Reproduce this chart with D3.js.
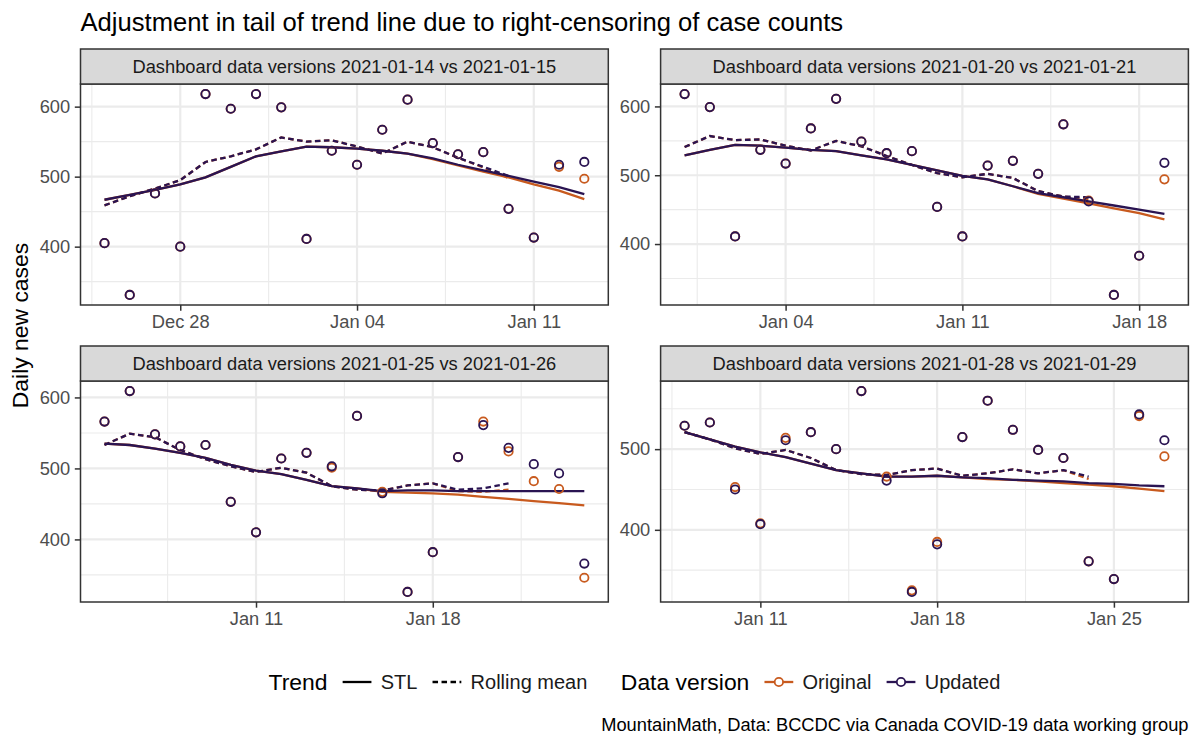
<!DOCTYPE html>
<html>
<head>
<meta charset="utf-8">
<script src="https://cdn.jsdelivr.net/npm/d3@7"></script>
<style>
  body { margin: 0; background: #fff; }
  svg text { font-family: "Liberation Sans", Arial, Helvetica, sans-serif; }
</style>
</head>
<body>
<div id="chart"></div>
<script>
// ---- data (one value per day) ----
var panelTitles = [
  "Dashboard data versions 2021-01-14 vs 2021-01-15",
  "Dashboard data versions 2021-01-20 vs 2021-01-21",
  "Dashboard data versions 2021-01-25 vs 2021-01-26",
  "Dashboard data versions 2021-01-28 vs 2021-01-29"
];
var panelStart = ["2020-12-25", "2020-12-31", "2021-01-05", "2021-01-08"];

// panel 1
var p1Updated  = [405,331,476,400,618,597,618,599,411,537,517,567,610,548,532,535,454,413,517,521];
var p1Original = [405,331,476,400,618,597,618,599,411,537,517,567,610,548,532,535,454,413,514,497];
var p1StlUpdated  = [467,474,481,489,499,514,529,536,543,542,540,537,533,526,517,509,501,493,485,475];
var p1StlOriginal = [467,474,481,489,499,514,529,536,543,542,540,537,533,525,516,507,499,489,480,468];
var p1RollUpdated  = [459,472,483,495,521,529,539,556,550,552,543,533,550,542,527,514,501];
var p1RollOriginal = [459,472,483,495,521,529,539,556,550,552,543,533,550,542,527,513,498];

// panel 2
var p2Updated  = [618,599,411,537,517,568,611,549,532,535,454,411,514,521,502,574,462,326,383,518];
var p2Original = [618,599,411,537,517,568,611,549,532,535,454,411,514,521,502,574,463,326,383,494];
var p2StlUpdated  = [529,537,544,543,540,537,535,529,523,515,507,499,494,484,474,468,462,456,450,444];
var p2StlOriginal = [529,537,544,543,540,537,535,529,523,515,507,499,494,484,473,466,459,452,445,436];
var p2RollUpdated  = [541,557,551,552,543,536,550,542,528,515,503,497,502,496,477,469,468];
var p2RollOriginal = [541,557,551,552,543,536,550,542,528,515,503,497,502,496,477,469,465];

// panel 3
var p3Updated  = [566,609,548,531,533,453,410,514,522,503,574,465,326,382,516,561,529,506,493,366];
var p3Original = [566,609,548,531,533,453,410,514,522,501,574,467,326,382,516,566,524,482,471,346];
var p3StlUpdated  = [535,533,528,522,515,505,497,492,484,475,472,468,469,469,468,468,468,468,468,468];
var p3StlOriginal = [535,533,528,522,515,505,497,492,484,475,472,467,466,465,463,460,457,454,451,448];
var p3RollUpdated  = [533,549,544,526,513,503,495,501,494,475,470,469,476,479,470,472,479];
var p3RollOriginal = [533,549,544,526,513,503,495,501,494,475,470,469,476,479,468,467,470];

// panel 4
var p4Updated  = [529,533,450,407,511,521,500,572,461,323,382,515,560,524,499,489,361,339,543,511];
var p4Original = [529,533,453,408,514,521,500,572,466,325,385,515,560,524,499,489,361,339,541,491];
var p4StlUpdated  = [521,512,503,496,490,482,474,470,466,466,467,465,464,462,461,460,458,457,455,454];
var p4StlOriginal = [521,512,503,496,490,482,474,470,466,466,467,465,463,462,460,458,456,454,451,448];
var p4RollUpdated  = [521,512,501,494,499,489,474,469,468,474,476,467,470,475,470,474,466];
var p4RollOriginal = [521,512,501,494,499,489,474,469,468,474,476,467,470,475,470,474,463];

var versions = ["Original", "Updated"];
var versionColor = {Original: "#C85A1E", Updated: "#2A1452"};
var trendTypes = ["STL", "Rolling mean"];

// ---- build per-panel tables ----
var parse = d3.utcParse("%Y-%m-%d");
function series(start, vals) {
  var d0 = parse(start);
  return vals.map(function(v, i) { return {date: d3.utcDay.offset(d0, i), v: v}; });
}
var raw = [
  [p1Original, p1Updated, p1StlOriginal, p1StlUpdated, p1RollOriginal, p1RollUpdated],
  [p2Original, p2Updated, p2StlOriginal, p2StlUpdated, p2RollOriginal, p2RollUpdated],
  [p3Original, p3Updated, p3StlOriginal, p3StlUpdated, p3RollOriginal, p3RollUpdated],
  [p4Original, p4Updated, p4StlOriginal, p4StlUpdated, p4RollOriginal, p4RollUpdated]
];
var panels = raw.map(function(r, i) {
  var s = panelStart[i];
  return {
    title: panelTitles[i],
    points: {Original: series(s, r[0]), Updated: series(s, r[1])},
    stl:    {Original: series(s, r[2]), Updated: series(s, r[3])},
    roll:   {Original: series(s, r[4]), Updated: series(s, r[5])}
  };
});

// ---- layout ----
var W = 1200, H = 750;
var panelW = 527.8, panelH = 221, stripH = 35;
var colX = [80.5, 660.6];
var rowY = [84, 381];   // panel tops
var dash = "5.5,3.5";

var svg = d3.select("#chart").append("svg").attr("width", W).attr("height", H);

svg.append("text").attr("x", 80.5).attr("y", 31)
  .attr("font-size", 25.6).attr("fill", "#000")
  .text("Adjustment in tail of trend line due to right-censoring of case counts");

svg.append("text")
  .attr("transform", "translate(28," + ((rowY[0] - stripH + rowY[1] + panelH) / 2) + ") rotate(-90)")
  .attr("text-anchor", "middle").attr("font-size", 22.9).attr("fill", "#000")
  .text("Daily new cases");

var fmt = d3.utcFormat("%b %d");

panels.forEach(function(p, i) {
  var x0 = colX[i % 2], y0 = rowY[Math.floor(i / 2)];
  var g = svg.append("g").attr("transform", "translate(" + x0 + "," + y0 + ")");

  var allDates = p.points.Updated.map(function(d) { return d.date; });
  var xd = d3.extent(allDates);
  var span = xd[1] - xd[0];
  var x = d3.scaleUtc()
    .domain([new Date(+xd[0] - span * 0.05), new Date(+xd[1] + span * 0.05)])
    .range([0, panelW]);

  var allVals = p.points.Updated.concat(p.points.Original).map(function(d) { return d.v; });
  var yd = d3.extent(allVals);
  var ys = yd[1] - yd[0];
  var y = d3.scaleLinear().domain([yd[0] - ys * 0.05, yd[1] + ys * 0.05]).range([panelH, 0]);

  // major / minor breaks
  var dom = x.domain();
  var majors = d3.utcMonday.range(dom[0], dom[1]);
  var mondays = d3.utcMonday.range(d3.utcDay.offset(dom[0], -7), d3.utcDay.offset(dom[1], 7));
  var minors = mondays.map(function(m) { return new Date(+m + 3.5 * 864e5); })
    .filter(function(d) { return d > dom[0] && d < dom[1]; });
  var yMaj = d3.range(100, 1000, 100).filter(function(v) { return v > y.domain()[0] && v < y.domain()[1]; });
  var yMin = d3.range(50, 1000, 100).filter(function(v) { return v > y.domain()[0] && v < y.domain()[1]; });

  g.append("rect").attr("width", panelW).attr("height", panelH).attr("fill", "#fff");

  var grid = g.append("g");
  grid.selectAll(".vmin").data(minors).enter().append("line")
    .attr("x1", x).attr("x2", x).attr("y1", 0).attr("y2", panelH)
    .attr("stroke", "#EBEBEB").attr("stroke-width", 1.1);
  grid.selectAll(".hmin").data(yMin).enter().append("line")
    .attr("y1", y).attr("y2", y).attr("x1", 0).attr("x2", panelW)
    .attr("stroke", "#EBEBEB").attr("stroke-width", 1.1);
  grid.selectAll(".vmaj").data(majors).enter().append("line")
    .attr("x1", x).attr("x2", x).attr("y1", 0).attr("y2", panelH)
    .attr("stroke", "#EBEBEB").attr("stroke-width", 2.2);
  grid.selectAll(".hmaj").data(yMaj).enter().append("line")
    .attr("y1", y).attr("y2", y).attr("x1", 0).attr("x2", panelW)
    .attr("stroke", "#EBEBEB").attr("stroke-width", 2.2);

  var line = d3.line().x(function(d) { return x(d.date); }).y(function(d) { return y(d.v); });

  versions.forEach(function(v) {
    g.append("path").datum(p.stl[v]).attr("d", line)
      .attr("fill", "none").attr("stroke", versionColor[v]).attr("stroke-width", 2.3);
    g.append("path").datum(p.roll[v]).attr("d", line)
      .attr("fill", "none").attr("stroke", versionColor[v]).attr("stroke-width", 2.3)
      .attr("stroke-dasharray", dash);
  });
  versions.forEach(function(v) {
    g.selectAll(".pt" + v).data(p.points[v]).enter().append("circle")
      .attr("cx", function(d) { return x(d.date); })
      .attr("cy", function(d) { return y(d.v); })
      .attr("r", 4.2).attr("fill", "none")
      .attr("stroke", versionColor[v]).attr("stroke-width", 1.8);
  });

  g.append("rect").attr("width", panelW).attr("height", panelH)
    .attr("fill", "none").attr("stroke", "#333").attr("stroke-width", 1.5);

  // strip
  g.append("rect").attr("y", -stripH).attr("width", panelW).attr("height", stripH)
    .attr("fill", "#D9D9D9").attr("stroke", "#333").attr("stroke-width", 1.5);
  g.append("text").attr("x", panelW / 2).attr("y", -stripH / 2).attr("dy", "0.35em")
    .attr("text-anchor", "middle").attr("font-size", 18.3).attr("fill", "#1A1A1A")
    .text(p.title);

  // axes
  var xa = g.append("g").attr("transform", "translate(0," + panelH + ")")
    .call(d3.axisBottom(x).tickValues(majors).tickFormat(fmt).tickSize(5.7).tickPadding(4.6));
  var ya = g.append("g")
    .call(d3.axisLeft(y).tickValues(yMaj).tickSize(5.7).tickPadding(4.6));
  [xa, ya].forEach(function(a) {
    a.select(".domain").remove();
    a.selectAll(".tick line").attr("stroke", "#333").attr("stroke-width", 1.5);
    a.selectAll(".tick text").attr("fill", "#4D4D4D").attr("font-size", 18.3)
      .attr("font-family", "Liberation Sans, Arial, sans-serif");
  });
});

// ---- legend ----
var legY = 682, keyW = 36, labelSize = 20;
var leg = svg.append("g");
var cx = 0;
function addText(t, size) {
  var el = leg.append("text").attr("x", cx).attr("y", legY).attr("dy", "0.35em")
    .attr("font-size", size).attr("fill", "#000").text(t);
  cx += el.node().getComputedTextLength();
  return el;
}
addText("Trend", 22.9); cx += 11.5;
trendTypes.forEach(function(t, i) {
  leg.append("line").attr("x1", cx + keyW * 0.1).attr("x2", cx + keyW * 0.9).attr("y1", legY).attr("y2", legY)
    .attr("stroke", "#000").attr("stroke-width", 2.3)
    .attr("stroke-dasharray", i === 1 ? dash : null);
  cx += keyW + 5.7;
  addText(t, labelSize).attr("fill", "#1A1A1A");
  cx += 11.5;
});
cx += 22;
addText("Data version", 22.9); cx += 11.5;
versions.forEach(function(v) {
  leg.append("line").attr("x1", cx + keyW * 0.1).attr("x2", cx + keyW * 0.9).attr("y1", legY).attr("y2", legY)
    .attr("stroke", versionColor[v]).attr("stroke-width", 2.3);
  leg.append("circle").attr("cx", cx + keyW / 2).attr("cy", legY).attr("r", 4.2)
    .attr("fill", "#fff").attr("stroke", versionColor[v]).attr("stroke-width", 1.8);
  cx += keyW + 5.7;
  addText(v, labelSize).attr("fill", "#1A1A1A");
  cx += 11.5;
});
cx -= 11.5;
var center = (colX[0] + colX[1] + panelW) / 2;
leg.attr("transform", "translate(" + (center - cx / 2) + ",0)");

svg.append("text").attr("x", 1188.5).attr("y", 731).attr("text-anchor", "end")
  .attr("font-size", 18.3).attr("fill", "#000")
  .text("MountainMath, Data: BCCDC via Canada COVID-19 data working group");
</script>
</body>
</html>
